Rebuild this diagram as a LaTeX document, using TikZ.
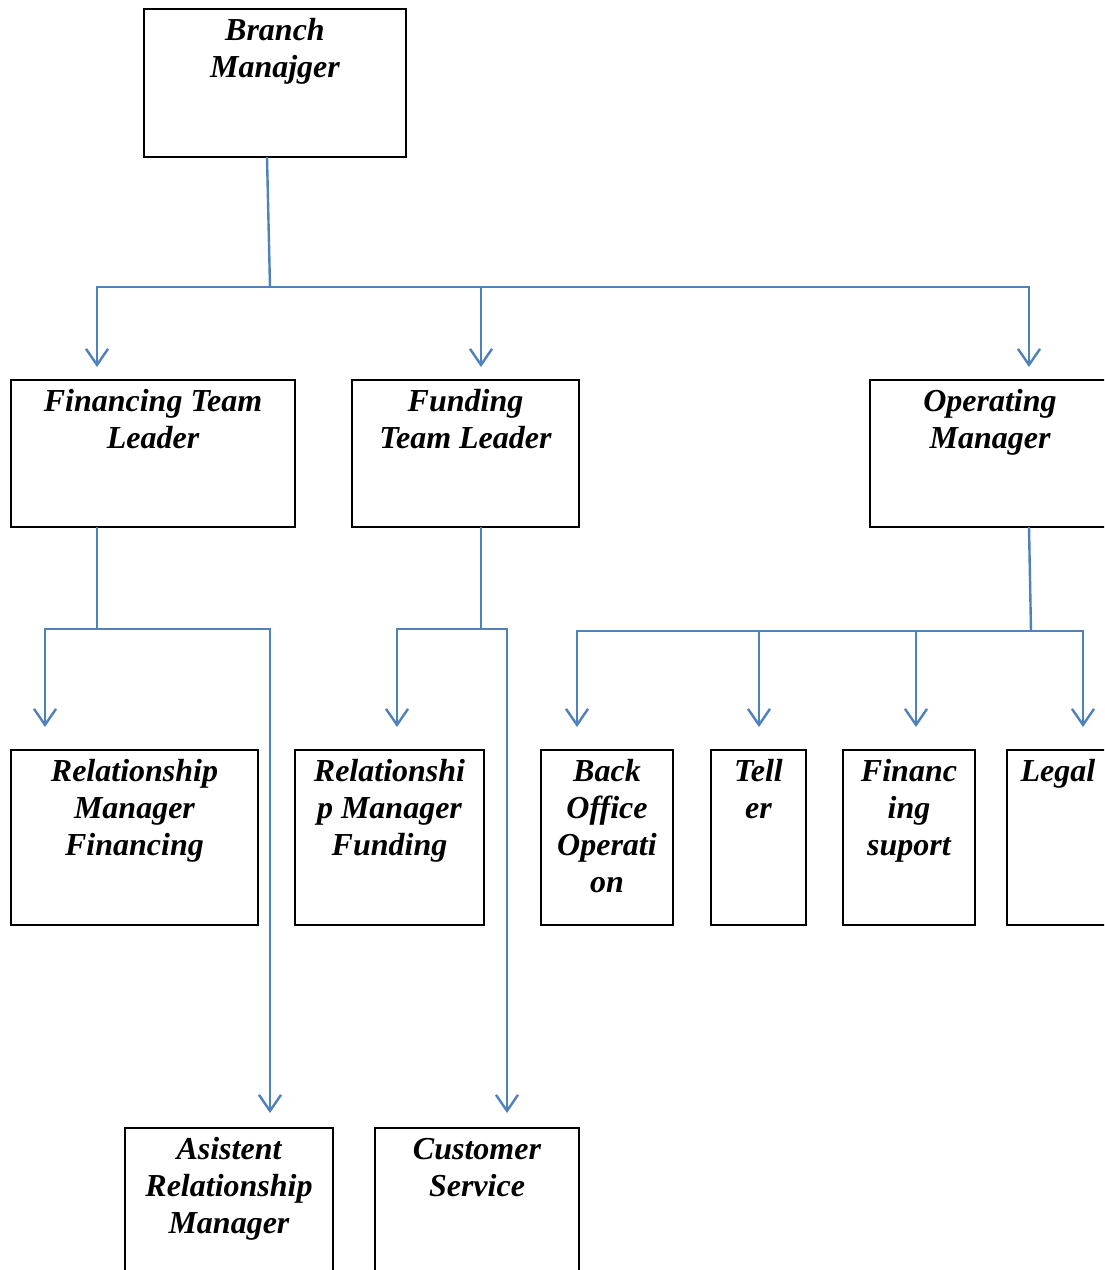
\documentclass[tikz,border=0pt]{standalone}
\usepackage{fontspec}
\setmainfont{Liberation Serif}
\usetikzlibrary{arrows.meta,calc}
\definecolor{wireblue}{HTML}{4F81BD}
\tikzset{
  x=1pt,y=-1pt,
  obox/.style={draw=black,line width=2pt,inner sep=0pt,outer sep=0pt,anchor=north west,rectangle},
  otext/.style={anchor=north,inner sep=0pt,align=center,font=\fontsize{32}{37}\selectfont\bfseries\itshape},
  wire/.style={draw=wireblue,line width=2.4pt},
  arrow/.style={wire,-{Straight Barb[length=16pt,width=22pt]}},
}
\newcommand{\bt}[2]{\node[otext] (#1t) at ($(#1.north)+(0,5)$) {\strut #2};}
\begin{document}
\begin{tikzpicture}
\useasboundingbox (0,0) rectangle (1104,1270);
\clip (0,0) rectangle (1104,1270);
\fill[white] (0,0) rectangle (1104,1270);
% boxes
\node[obox,minimum width=262,minimum height=148] (bm) at (144,9) {};
\node[obox,minimum width=284,minimum height=147] (ftl) at (11,380) {};
\node[obox,minimum width=227,minimum height=147] (fdl) at (352,380) {};
\node[obox,minimum width=240,minimum height=147] (om) at (870,380) {};
\node[obox,minimum width=247,minimum height=175] (rmf) at (11,750) {};
\node[obox,minimum width=189,minimum height=175] (rmd) at (295,750) {};
\node[obox,minimum width=132,minimum height=175] (boo) at (541,750) {};
\node[obox,minimum width=95,minimum height=175] (tel) at (711,750) {};
\node[obox,minimum width=132,minimum height=175] (fsp) at (843,750) {};
\node[obox,minimum width=102,minimum height=175] (leg) at (1007,750) {};
\node[obox,minimum width=208,minimum height=200] (arm) at (125,1128) {};
\node[obox,minimum width=204,minimum height=200] (cs) at (375,1128) {};
% texts
\bt{bm}{Branch\\Manajger}
\bt{ftl}{Financing Team\\Leader}
\bt{fdl}{Funding\\Team Leader}
\bt{om}{Operating\\Manager}
\bt{rmf}{Relationship\\Manager\\Financing}
\bt{rmd}{Relationshi\\p Manager\\Funding}
\bt{boo}{Back\\Office\\Operati\\on}
\bt{tel}{Tell\\er}
\bt{fsp}{Financ\\ing\\suport}
\bt{leg}{Legal}
\bt{arm}{Asistent\\Relationship\\Manager}
\bt{cs}{Customer\\Service}
% junctions and arrow ends
\coordinate (j0) at (270,287);
\coordinate (j1) at (97,629);
\coordinate (j2) at (481,629);
\coordinate (j3) at (1031,631);
\coordinate (t1) at (97,367);
\coordinate (t2) at (481,367);
\coordinate (t3) at (1029,367);
\coordinate (t4) at (45,727);
\coordinate (t5) at (270,1113);
\coordinate (t6) at (397,727);
\coordinate (t7) at (507,1113);
\coordinate (t8) at (577,727);
\coordinate (t9) at (759,727);
\coordinate (t10) at (916,727);
\coordinate (t11) at (1083,727);
% connectors
\draw[wire] ([xshift=-8pt]bm.south) -- (j0);
\draw[arrow] (j0) -| (t1);
\draw[arrow] (j0) -| (t2);
\draw[arrow] (j0) -| (t3);
\draw[wire] (ftl.south -| j1) -- (j1);
\draw[arrow] (j1) -| (t4);
\draw[arrow] (j1) -| (t5);
\draw[wire] (fdl.south -| j2) -- (j2);
\draw[arrow] (j2) -| (t6);
\draw[arrow] (j2) -| (t7);
\draw[wire] ([xshift=39pt]om.south) -- (j3);
\draw[arrow] (j3) -| (t8);
\draw[arrow] (j3) -| (t9);
\draw[arrow] (j3) -| (t10);
\draw[arrow] (j3) -| (t11);
\end{tikzpicture}
\end{document}
